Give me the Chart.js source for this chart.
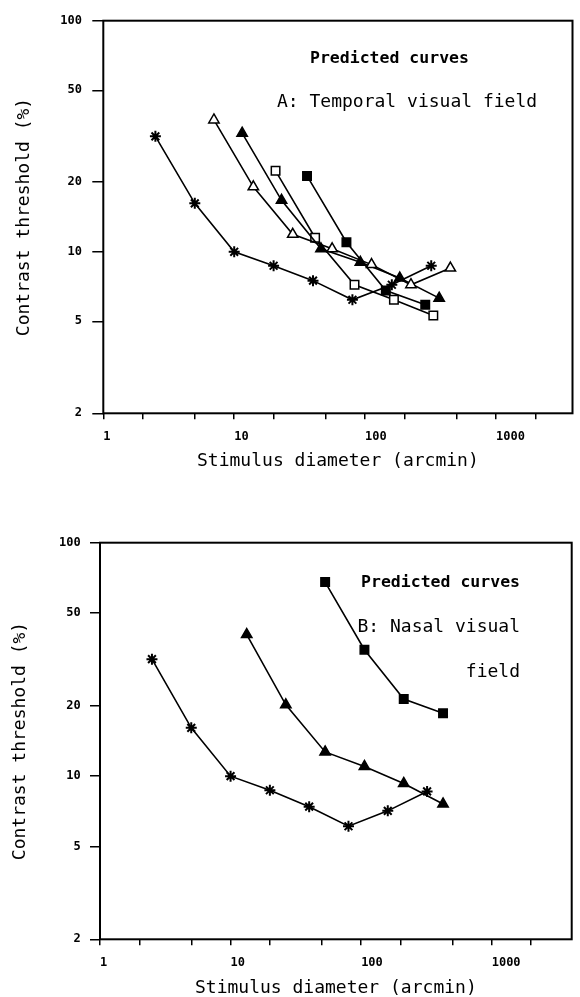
<!DOCTYPE html>
<html>
<head>
<meta charset="utf-8">
<script src="https://cdn.jsdelivr.net/npm/chart.js@4"></script>
<style>
  html, body { margin: 0; padding: 0; background: #fff; overflow: hidden; }
  canvas { position: absolute; left: 0; }
  #chartA { top: 0; }
  #chartB { top: 500px; }
</style>
</head>
<body>
<canvas id="chartA" width="580" height="480"></canvas>
<canvas id="chartB" width="580" height="500"></canvas>
<script>
const xTicks = [1, 2, 5, 10, 20, 50, 100, 200, 500, 1000, 2000];
const xLabels = [1, 10, 100, 1000];
const yTicks = [2, 5, 10, 20, 50, 100];

// A: temporal visual field
const starX = [2.5, 5, 10, 20, 40, 80, 160, 320];
const aStarY = [31.6, 16.2, 10, 8.7, 7.5, 6.2, 7.2, 8.7];
const aOpenTriX = [7, 14, 28, 56, 112, 224, 448];
const aOpenTriY = [37.2, 19.1, 11.9, 10.3, 8.8, 7.2, 8.5];
const aTriX = [11.5, 23, 46, 92, 184, 368];
const aTriY = [32.6, 16.7, 10.3, 9.0, 7.7, 6.3];
const aOpenSqX = [20.7, 41.5, 83, 166, 332];
const aOpenSqY = [22.4, 11.5, 7.2, 6.2, 5.3];
const aSqX = [36, 72, 144, 288];
const aSqY = [21.3, 11.0, 6.8, 5.9];

// B: nasal visual field
const bStarY = [31.7, 16.1, 10, 8.7, 7.4, 6.1, 7.1, 8.6];
const bTriX = [13.3, 26.5, 53, 106, 212, 424];
const bTriY = [40.4, 20.2, 12.7, 11.0, 9.3, 7.6];
const bSqX = [53, 106, 212, 424];
const bSqY = [67.8, 34.8, 21.4, 18.6];

const mono = 'DejaVu Sans Mono';

function series(xs, ys, style, fill) {
  return {
    data: xs.map((x, i) => ({ x: x, y: ys[i] })),
    showLine: true,
    borderColor: '#000',
    borderWidth: 1.6,
    pointStyle: style,
    pointRadius: style === 'star' ? 5.5 : 6,
    pointBorderColor: '#000',
    pointBackgroundColor: fill,
    pointBorderWidth: style === 'star' ? 2 : 1.5
  };
}

const framePlugin = {
  id: 'frame',
  beforeDatasetsDraw(chart) {
    const { ctx, chartArea: a } = chart;
    ctx.save();
    ctx.strokeStyle = '#000';
    ctx.lineWidth = 2;
    ctx.strokeRect(a.left, a.top, a.right - a.left, a.bottom - a.top);
    ctx.restore();
  },
  afterDraw(chart, args, opts) {
    const ctx = chart.ctx;
    ctx.save();
    ctx.fillStyle = '#000';
    ctx.textBaseline = 'middle';
    (opts.notes || []).forEach(n => {
      ctx.font = n.font;
      ctx.textAlign = n.align;
      ctx.fillText(n.text, n.x, n.y);
    });
    ctx.restore();
  }
};

function makeChart(id, datasets, lay, notes) {
  return new Chart(document.getElementById(id), {
    type: 'scatter',
    data: { datasets: datasets },
    options: {
      responsive: false,
      animation: false,
      devicePixelRatio: 1,
      layout: { padding: lay.pad },
      plugins: {
        legend: { display: false },
        tooltip: { enabled: false },
        frame: { notes: notes }
      },
      scales: {
        x: {
          type: 'logarithmic',
          min: 1,
          max: lay.xmax,
          afterBuildTicks: s => { s.ticks = xTicks.map(v => ({ value: v })); },
          afterFit: s => { s.height = lay.xh; s.paddingLeft = 0; s.paddingRight = 0; },
          ticks: {
            align: 'start',
            autoSkip: false,
            maxRotation: 0,
            padding: lay.xp,
            color: '#000',
            font: { family: mono, weight: 'bold', size: 12 },
            callback: v => xLabels.includes(v) ? String(v) : ''
          },
          grid: { drawOnChartArea: false, tickLength: 6, color: '#000', lineWidth: 1.5 },
          border: { display: false },
          title: {
            display: true,
            text: 'Stimulus diameter (arcmin)',
            color: '#000',
            font: { family: mono, size: 18 },
            padding: { top: 0, bottom: lay.xb }
          }
        },
        y: {
          type: 'logarithmic',
          min: 2,
          max: 100,
          afterBuildTicks: s => { s.ticks = yTicks.map(v => ({ value: v })); },
          afterFit: s => { s.width = lay.yw; },
          ticks: {
            autoSkip: false,
            padding: lay.yp,
            color: '#000',
            font: { family: mono, weight: 'bold', size: 12 },
            callback: v => String(v)
          },
          grid: { drawOnChartArea: false, tickLength: lay.ytl, color: '#000', lineWidth: 1.5 },
          border: { display: false },
          title: {
            display: true,
            text: 'Contrast threshold (%)',
            color: '#000',
            font: { family: mono, size: 18 },
            padding: { top: lay.yt, bottom: 0 }
          }
        }
      }
    },
    plugins: [framePlugin]
  });
}

makeChart('chartA', [
  series(starX, aStarY, 'star', '#000'),
  series(aOpenTriX, aOpenTriY, 'triangle', '#fff'),
  series(aTriX, aTriY, 'triangle', '#000'),
  series(aOpenSqX, aOpenSqY, 'rect', '#fff'),
  series(aSqX, aSqY, 'rect', '#000')
], { pad: { top: 20.7, right: 5, bottom: 0, left: 0 }, xmax: 3840, xh: 66.7, xp: 10.2, xb: 7.5, yw: 103.3, yp: 10.3, ytl: 11, yt: 13.2 }, [
  { text: 'Predicted curves', font: 'bold 16.5px ' + mono, align: 'left', x: 310, y: 59 },
  { text: 'A: Temporal visual field', font: '18px ' + mono, align: 'left', x: 277, y: 102 }
]);

makeChart('chartB', [
  series(starX, bStarY, 'star', '#000'),
  series(bTriX, bTriY, 'triangle', '#000'),
  series(bSqX, bSqY, 'rect', '#000')
], { pad: { top: 42.7, right: 8.3, bottom: 0, left: 0 }, xmax: 4100, xh: 60.7, xp: 10.8, xb: 0.9, yw: 100, yp: 9.3, ytl: 10, yt: 9.2 }, [
  { text: 'Predicted curves', font: 'bold 16.5px ' + mono, align: 'right', x: 520, y: 83 },
  { text: 'B: Nasal visual', font: '18px ' + mono, align: 'right', x: 520, y: 127 },
  { text: 'field', font: '18px ' + mono, align: 'right', x: 520, y: 172 }
]);
</script>
</body>
</html>
